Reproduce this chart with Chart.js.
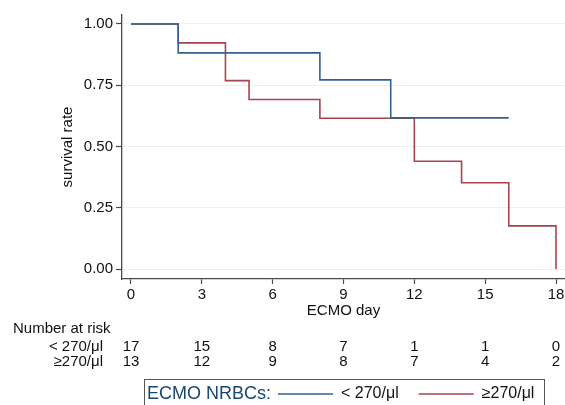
<!DOCTYPE html>
<html>
<head>
<meta charset="utf-8">
<script src="https://cdn.jsdelivr.net/npm/chart.js@4.4.1/dist/chart.umd.min.js"></script>
<style>
  html, body { margin: 0; padding: 0; background: #fff; }
  #wrap { width: 565px; height: 405px; }
</style>
</head>
<body>
<div id="wrap"><canvas id="km"></canvas></div>
<script>
// Kaplan-Meier steps
const lowDays = [0, 2, 8, 11, 16];
const lowSurv = [1.0, 0.882, 0.772, 0.617, 0.617];
const highDays = [0, 2, 4, 5, 8, 12, 14, 16, 18];
const highSurv = [1.0, 0.923, 0.769, 0.692, 0.615, 0.440, 0.352, 0.176, 0.0];

const groupLabels = ['< 270/\u03bcl', '\u2265270/\u03bcl'];
const groupColors = ['#34618f', '#a8444d'];

// number at risk table
const riskDays = [0, 3, 6, 9, 12, 15, 18];
const riskLow = [17, 15, 8, 7, 1, 1, 0];
const riskHigh = [13, 12, 9, 8, 7, 4, 2];

const xTicks = [0, 3, 6, 9, 12, 15, 18];
const yTicks = [0, 0.25, 0.5, 0.75, 1.0];

const FONT = '"Liberation Sans", Arial, sans-serif';
const AXIS = '#4a4a4a';

function toPoints(days, surv) {
  return days.map((d, i) => ({ x: d, y: surv[i] }));
}

const riskTablePlugin = {
  id: 'riskTable',
  afterDraw(chart) {
    const ctx = chart.ctx;
    const x = chart.scales.x;
    ctx.save();
    ctx.font = '15px ' + FONT;
    ctx.fillStyle = '#111';
    ctx.textBaseline = 'middle';
    ctx.textAlign = 'left';
    ctx.fillText('Number at risk', 13, 329);
    ctx.textAlign = 'right';
    ctx.fillText(groupLabels[0], 103, 347);
    ctx.fillText(groupLabels[1], 103, 362);
    ctx.textAlign = 'center';
    riskDays.forEach((d, i) => {
      const px = x.getPixelForValue(d);
      ctx.fillText(String(riskLow[i]), px, 347);
      ctx.fillText(String(riskHigh[i]), px, 362);
    });
    ctx.restore();
  }
};

const legendBoxPlugin = {
  id: 'legendBox',
  afterDraw(chart) {
    const ctx = chart.ctx;
    ctx.save();
    ctx.strokeStyle = '#555';
    ctx.lineWidth = 1;
    ctx.strokeRect(144.5, 379.5, 400, 40);

    ctx.textBaseline = 'middle';
    ctx.textAlign = 'left';
    const y = 394;
    let cx = 147;
    ctx.font = '18px ' + FONT;
    ctx.fillStyle = '#1a476f';
    ctx.fillText('ECMO NRBCs:', cx, y);
    cx += ctx.measureText('ECMO NRBCs:').width + 7;

    ctx.font = '16px ' + FONT;
    chart.data.datasets.forEach((ds) => {
      ctx.strokeStyle = ds.borderColor;
      ctx.lineWidth = 1.5;
      ctx.beginPath();
      ctx.moveTo(cx, y);
      ctx.lineTo(cx + 55, y);
      ctx.stroke();
      cx += 63;
      ctx.fillStyle = '#111';
      ctx.fillText(ds.label, cx, y);
      cx += ctx.measureText(ds.label).width + 20;
    });
    ctx.restore();
  }
};

new Chart(document.getElementById('km'), {
  type: 'line',
  data: {
    datasets: [
      {
        label: groupLabels[0],
        data: toPoints(lowDays, lowSurv),
        borderColor: groupColors[0],
        borderWidth: 1.6,
        stepped: true,
        pointRadius: 0,
        fill: false
      },
      {
        label: groupLabels[1],
        data: toPoints(highDays, highSurv),
        borderColor: groupColors[1],
        borderWidth: 1.6,
        stepped: true,
        pointRadius: 0,
        fill: false
      }
    ]
  },
  options: {
    responsive: true,
    maintainAspectRatio: false,
    animation: false,
    layout: { padding: { top: 15, right: 0, bottom: 85, left: 0 } },
    scales: {
      x: {
        type: 'linear',
        min: -0.381,
        max: 18.381,
        afterFit: (scale) => {
          scale.height = 41;
          scale.paddingRight = 0;
          scale.paddingLeft = 0;
        },
        afterBuildTicks: (scale) => { scale.ticks = xTicks.map(v => ({ value: v })); },
        border: { display: true, color: AXIS, width: 1.3 },
        grid: { drawOnChartArea: false, tickColor: AXIS, tickLength: 5, tickWidth: 1.2 },
        ticks: { color: '#111', font: { family: FONT, size: 15 }, padding: 2, maxRotation: 0 },
        title: { display: true, text: 'ECMO day', color: '#111', font: { family: FONT, size: 15 }, padding: 0 }
      },
      y: {
        min: -0.0408,
        max: 1.0367,
        afterFit: (scale) => { scale.width = 122; },
        afterBuildTicks: (scale) => { scale.ticks = yTicks.map(v => ({ value: v })); },
        border: { display: true, color: AXIS, width: 1.3 },
        grid: { color: '#e9f1f3', lineWidth: 1, tickColor: AXIS, tickLength: 6, tickWidth: 1.2 },
        ticks: {
          color: '#111',
          font: { family: FONT, size: 15 },
          padding: 3,
          callback: (v) => Number(v).toFixed(2)
        },
        title: { display: true, text: 'survival rate', color: '#111', font: { family: FONT, size: 15 }, padding: { top: 59, bottom: 0 } }
      }
    },
    plugins: {
      legend: { display: false },
      tooltip: { enabled: false }
    }
  },
  plugins: [riskTablePlugin, legendBoxPlugin]
});
</script>
</body>
</html>
